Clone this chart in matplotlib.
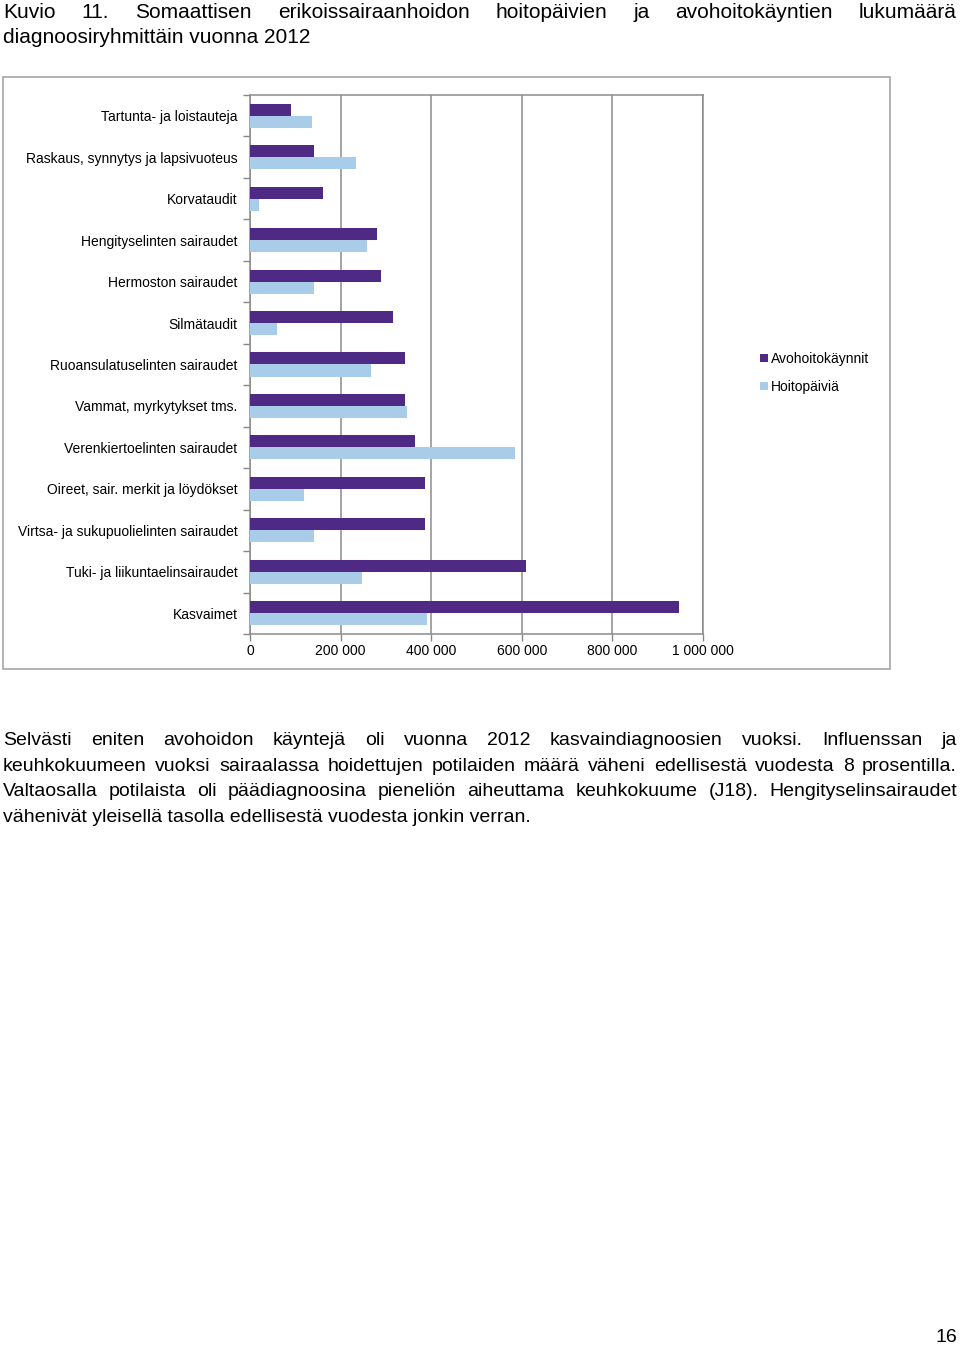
import matplotlib
matplotlib.use("Agg")
import matplotlib.pyplot as plt
from matplotlib.patches import Rectangle
import numpy as np

categories = [
    "Tartunta- ja loistauteja",
    "Raskaus, synnytys ja lapsivuoteus",
    "Korvataudit",
    "Hengityselinten sairaudet",
    "Hermoston sairaudet",
    "Silmätaudit",
    "Ruoansulatuselinten sairaudet",
    "Vammat, myrkytykset tms.",
    "Verenkiertoelinten sairaudet",
    "Oireet, sair. merkit ja löydökset",
    "Virtsa- ja sukupuolielinten sairaudet",
    "Tuki- ja liikuntaelinsairaudet",
    "Kasvaimet",
]
avohoitokaynnit = [90000, 141000, 161000, 280000, 289000, 316000, 342000,
                   343000, 364000, 386000, 386000, 609000, 947000]
hoitopaivia = [137000, 234000, 20000, 258000, 141000, 60000, 267000,
               347000, 585000, 119000, 141000, 247000, 391000]
series_names = ["Avohoitokäynnit", "Hoitopäiviä"]
xticks = [0, 200000, 400000, 600000, 800000, 1000000]
xticklabels = ["0", "200 000", "400 000", "600 000", "800 000", "1 000 000"]

title_lines = [
    "Kuvio 11. Somaattisen erikoissairaanhoidon hoitopäivien ja avohoitokäyntien lukumäärä",
    "diagnoosiryhmittäin vuonna 2012",
]
para_lines = [
    "Selvästi eniten avohoidon käyntejä oli vuonna 2012 kasvaindiagnoosien vuoksi. Influenssan ja",
    "keuhkokuumeen vuoksi sairaalassa hoidettujen potilaiden määrä väheni edellisestä vuodesta 8 prosentilla.",
    "Valtaosalla potilaista oli päädiagnoosina pieneliön aiheuttama keuhkokuume (J18). Hengityselinsairaudet",
    "vähenivät yleisellä tasolla edellisestä vuodesta jonkin verran.",
]

plt.rcParams['font.family'] = ['Liberation Sans', 'DejaVu Sans']
body_size = 14
title_size = 15

W, H = 960, 1345
fig = plt.figure(figsize=(W / 100, H / 100), dpi=100)

def fx(px):
    return px / W

def fy(py):
    return 1 - py / H

# outer chart frame
fig.patches.append(Rectangle((fx(3), fy(669)), fx(890) - fx(3), fy(77) - fy(669),
                             transform=fig.transFigure, fill=False,
                             edgecolor="#a6a6a6", linewidth=1.2))

ax = fig.add_axes([fx(250), fy(634), fx(703) - fx(250), fy(95) - fy(634)])

n = len(categories)
y = np.arange(n)
bh = 0.29
purple = "#4f2a84"
lblue = "#a9cde8"
b1 = ax.barh(y - bh / 2, avohoitokaynnit, height=bh, color=purple, label=series_names[0], zorder=3)
b2 = ax.barh(y + bh / 2, hoitopaivia, height=bh, color=lblue, label=series_names[1], zorder=3)

ax.set_ylim(n - 0.5, -0.5)
ax.set_xlim(0, 1000000)
ax.set_xticks(xticks)
ax.set_xticklabels(xticklabels, fontsize=10)
ax.set_yticks(y)
ax.set_yticklabels(categories, fontsize=10)
ax.set_yticks(np.arange(n + 1) - 0.5, minor=True)
ax.tick_params(axis='y', which='major', length=0, pad=9)
ax.tick_params(axis='y', which='minor', length=5, color="#888888", width=1)
ax.tick_params(axis='x', which='major', length=5, color="#888888", width=1, pad=2)
ax.grid(axis='x', color="#8c8c8c", linewidth=1.1, zorder=0)
for s in ax.spines.values():
    s.set_color("#8c8c8c")
    s.set_linewidth(1.1)

ax.legend(handles=[b1, b2], loc='upper left', bbox_to_anchor=(fx(760), fy(352)),
          bbox_transform=fig.transFigure, frameon=False, fontsize=10,
          handlelength=0.55, handleheight=0.55, handletextpad=0.25,
          labelspacing=1.0, borderaxespad=0, borderpad=0)

fig.canvas.draw()
renderer = fig.canvas.get_renderer()

def text_line(line, base_px, justify, size, left=3, right=957):
    words = line.split(" ")
    if not justify:
        fig.text(fx(left), fy(base_px), line, fontsize=size,
                 ha='left', va='baseline')
        return
    objs = [fig.text(0, fy(base_px), w, fontsize=size,
                     ha='left', va='baseline') for w in words]
    widths = [o.get_window_extent(renderer).width for o in objs]
    gap = ((right - left) - sum(widths)) / (len(words) - 1)
    x = left
    for o, wd in zip(objs, widths):
        o.set_x(fx(x))
        x += wd + gap

text_line(title_lines[0], 18, True, title_size)
text_line(title_lines[1], 43, False, title_size)
for i, ln in enumerate(para_lines):
    text_line(ln, 745 + i * 25.7, i < len(para_lines) - 1, body_size)

fig.text(fx(957), fy(1342), "16", fontsize=body_size, ha='right', va='baseline')

fig.savefig("out.png", dpi=100)
